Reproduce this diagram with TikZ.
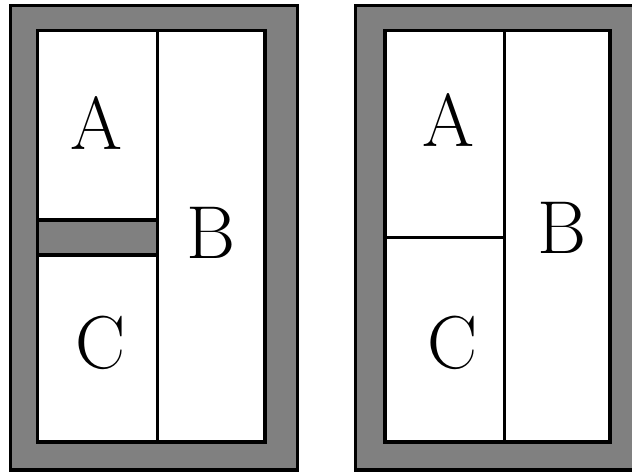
\documentclass[tikz,border=0pt]{standalone}
\definecolor{wallgray}{RGB}{128,128,128}
\tikzset{
  wall/.style={draw=black, line width=3.5pt, fill=wallgray},
  room/.style={draw=black, line width=3.5pt, fill=white},
  part/.style={draw=black, line width=3pt},
  lbl/.style={font=\fontsize{75}{80}\selectfont, inner sep=0pt, anchor=center}
}
\begin{document}
\begin{tikzpicture}[x=1pt,y=-1pt]
\useasboundingbox (0,0) rectangle (632,474);
\clip (0,0) rectangle (632,474);
% left plan
\draw[wall] (10.5,5.5) rectangle (297.5,470);
\draw[room] (37.5,30.5) rectangle (265,442);
\draw[wall] (37.5,220) rectangle (157.5,255);
\draw[part] (157.5,30.5) -- (157.5,442);
\node[lbl] (la) at (96,122.5) {A};
\node[lbl] (lb) at (211,233) {B};
\node[lbl] (lc) at (101,342.5) {C};
% right plan
\draw[wall] (355.5,5.5) rectangle (642.5,470);
\draw[room] (385,30.5) rectangle (610,442);
\draw[part] (504,30.5) -- (504,442);
\draw[part] (385,237) -- (504,237);
\node[lbl] (ra) at (448,120) {A};
\node[lbl] (rb) at (562,228) {B};
\node[lbl] (rc) at (453,342.5) {C};
\end{tikzpicture}
\end{document}
